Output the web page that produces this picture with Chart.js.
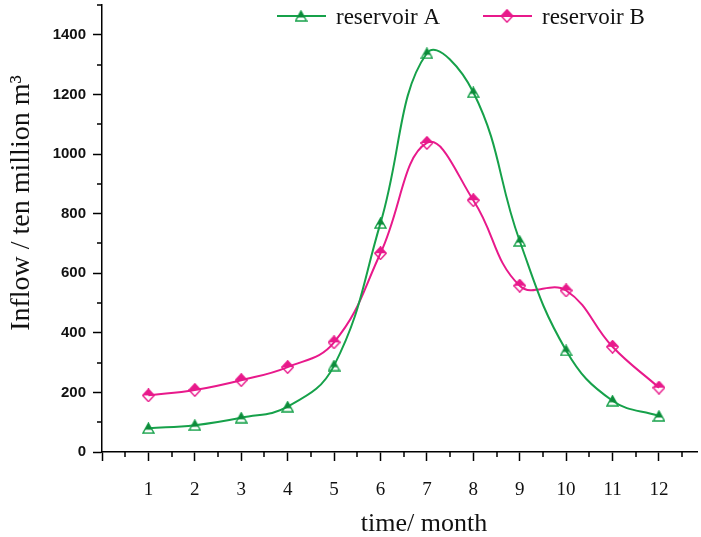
<!DOCTYPE html>
<html>
<head>
<meta charset="utf-8">
<script src="https://cdn.jsdelivr.net/npm/chart.js@4/dist/chart.umd.min.js"></script>
<style>
  html, body { margin: 0; padding: 0; background: #fff; }
  canvas { display: block; }
</style>
</head>
<body>
<canvas id="inflowChart" width="701" height="537"></canvas>
<script>
// Monthly inflow, ten million m3
const months = [1, 2, 3, 4, 5, 6, 7, 8, 9, 10, 11, 12];
const reservoirA = [80, 90, 115, 152, 290, 768, 1338, 1207, 708, 341, 172, 121];
const reservoirB = [190, 208, 241, 285, 368, 667, 1037, 845, 558, 542, 353, 216];
const seriesNames = ["reservoir A", "reservoir B"];

const GREEN = "#16a14a";
const PINK = "#e8198b";
const SERIF = "'Liberation Serif', 'Times New Roman', serif";
const SANS = "'Liberation Sans', Arial, sans-serif";

// half-filled triangle marker
function triangleMarker(color) {
    let c = document.createElement("canvas");
    c.width = 13; c.height = 12;
    let g = c.getContext("2d");
    const path = () => {
        g.beginPath();
        g.moveTo(6.5, 1); g.lineTo(12, 11); g.lineTo(1, 11); g.closePath();
    };
    path(); g.strokeStyle = color; g.lineWidth = 1.4; g.stroke();
    g.save();
    g.beginPath(); g.rect(0, 0, 13, 7.5); g.clip();
    path(); g.fillStyle = "#0d8a3a"; g.fill();
    g.restore();
    return c;
}

// half-filled diamond marker
function diamondMarker(color) {
    let c = document.createElement("canvas");
    c.width = 13; c.height = 14;
    let g = c.getContext("2d");
    const path = () => {
        g.beginPath();
        g.moveTo(6.5, 0.8); g.lineTo(12.2, 7); g.lineTo(6.5, 13.2); g.lineTo(0.8, 7); g.closePath();
    };
    path(); g.strokeStyle = color; g.lineWidth = 1.4; g.stroke();
    g.save();
    g.beginPath(); g.rect(0, 0, 13, 7); g.clip();
    path(); g.fillStyle = color; g.fill();
    g.restore();
    return c;
}

const markerA = triangleMarker(GREEN);
const markerB = diamondMarker(PINK);

const toPoints = values => months.map((m, i) => ({ x: m, y: values[i] }));

// minor ticks, axis titles and legend
const decorations = {
    id: "decorations",
    afterDraw(chart) {
        const ctx = chart.ctx;
        const area = chart.chartArea;
        const xs = chart.scales.x, ys = chart.scales.y;
        ctx.save();
        ctx.strokeStyle = "#000";
        ctx.lineWidth = 1.5;
        ctx.beginPath();
        for (let v = 100; v <= 1500; v += 200) {
            let py = Math.round(ys.getPixelForValue(v));
            ctx.moveTo(area.left - 5, py); ctx.lineTo(area.left, py);
        }
        for (let m = 0.5; m <= 12.5; m += 1) {
            let px = Math.round(xs.getPixelForValue(m));
            ctx.moveTo(px, area.bottom); ctx.lineTo(px, area.bottom + 5);
        }
        ctx.stroke();

        // axis titles
        ctx.fillStyle = "#111";
        ctx.font = "26px " + SERIF;
        ctx.textAlign = "center";
        ctx.textBaseline = "alphabetic";
        ctx.fillText("time/ month", 424, 531);
        ctx.save();
        ctx.translate(29, 203);
        ctx.rotate(-Math.PI / 2);
        ctx.font = "28px " + SERIF;
        ctx.fillText("Inflow / ten million m\u00b3", 0, 0);
        ctx.restore();

        // legend
        const slots = [277, 483];
        ctx.font = "23px " + SERIF;
        ctx.textAlign = "left";
        chart.data.datasets.forEach((ds, i) => {
            let x0 = slots[i], yy = 16;
            ctx.strokeStyle = ds.borderColor;
            ctx.lineWidth = 2;
            ctx.beginPath(); ctx.moveTo(x0, yy); ctx.lineTo(x0 + 49, yy); ctx.stroke();
            let img = ds.pointStyle;
            ctx.drawImage(img, x0 + 24 - img.width / 2, yy - img.height / 2);
            ctx.fillStyle = "#111";
            ctx.fillText(ds.label, x0 + 59, 24);
        });
        ctx.restore();
    }
};

new Chart(document.getElementById("inflowChart"), {
    type: "line",
    data: {
        datasets: [
            {
                label: seriesNames[0],
                data: toPoints(reservoirA),
                borderColor: GREEN,
                borderWidth: 2,
                tension: 0.42,
                pointStyle: markerA,
                pointRadius: 1,
                pointBorderWidth: 0,
                fill: false
            },
            {
                label: seriesNames[1],
                data: toPoints(reservoirB),
                borderColor: PINK,
                borderWidth: 2,
                tension: 0.42,
                pointStyle: markerB,
                pointRadius: 1,
                pointBorderWidth: 0,
                fill: false
            }
        ]
    },
    options: {
        responsive: false,
        animation: false,
        devicePixelRatio: 1,
        layout: { padding: { top: 5, right: 0, left: 0, bottom: 0 } },
        plugins: { legend: { display: false }, tooltip: { enabled: false } },
        scales: {
            x: {
                type: "linear",
                min: 0,
                max: 12.82,
                afterFit: s => { s.height = 85; s.paddingRight = 0; s.paddingLeft = 0; },
                border: { color: "#000", width: 1.5 },
                grid: { drawOnChartArea: false, tickLength: 9, tickColor: "#000", tickWidth: 1.5 },
                ticks: {
                    stepSize: 1,
                    includeBounds: false,
                    autoSkip: false,
                    maxRotation: 0,
                    padding: 18,
                    color: "#111",
                    font: { family: SERIF, size: 19 },
                    callback: v => (v >= 1 && v <= 12 ? String(v) : "")
                }
            },
            y: {
                min: 0,
                max: 1500,
                afterFit: s => { s.width = 102; s.paddingTop = 0; s.paddingBottom = 0; },
                border: { color: "#000", width: 1.5 },
                grid: { drawOnChartArea: false, tickLength: 9, tickColor: "#000", tickWidth: 1.5 },
                ticks: {
                    stepSize: 200,
                    includeBounds: false,
                    padding: 7,
                    color: "#111",
                    font: { family: SANS, size: 15, weight: "bold" },
                    callback: v => String(v)
                }
            }
        }
    },
    plugins: [decorations]
});
</script>
</body>
</html>
